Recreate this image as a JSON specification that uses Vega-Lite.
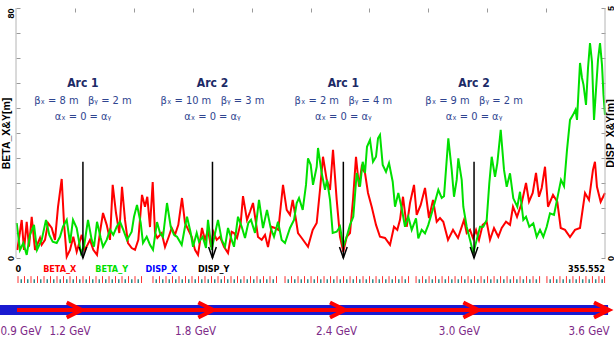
{
 "$schema": "https://vega.github.io/schema/vega-lite/v6.json",
 "width": 589, "height": 250,
 "autosize": {"type": "none"},
 "padding": {"left": 16, "top": 8, "right": 9, "bottom": 89},
 "background": "white",
 "config": {"view": {"stroke": null}, "axis": {"grid": false}, "text": {"font": "'DejaVu Sans Condensed', 'Liberation Sans', sans-serif"}},
 "datasets": {
  "beta": [
{"s":0.78,"v":2.56,"k":"X"},{"s":3.44,"v":12.16,"k":"X"},{"s":4.83,"v":2.56,"k":"X"},{"s":6.46,"v":11.6,"k":"X"},{"s":7.85,"v":3.6,"k":"X"},{"s":9.48,"v":13.2,"k":"X"},{"s":11.47,"v":2.56,"k":"X"},{"s":14.49,"v":6.4,"k":"X"},{"s":15.51,"v":4.2,"k":"X"},{"s":17.51,"v":5.8,"k":"X"},{"s":19.32,"v":11.2,"k":"X"},{"s":21.55,"v":9.6,"k":"X"},{"s":23.54,"v":5.8,"k":"X"},{"s":25.35,"v":16.3,"k":"X"},{"s":27.59,"v":25.3,"k":"X"},{"s":28.98,"v":11.2,"k":"X"},{"s":30.61,"v":0.4,"k":"X"},{"s":32.6,"v":2.6,"k":"X"},{"s":34.59,"v":6.8,"k":"X"},{"s":36.64,"v":2.0,"k":"X"},{"s":39.66,"v":7.4,"k":"X"},{"s":41.65,"v":2.6,"k":"X"},{"s":44.67,"v":5.8,"k":"X"},{"s":46.66,"v":2.6,"k":"X"},{"s":48.9,"v":1.0,"k":"X"},{"s":50.71,"v":8.3,"k":"X"},{"s":52.52,"v":14.4,"k":"X"},{"s":54.75,"v":10.6,"k":"X"},{"s":56.74,"v":5.8,"k":"X"},{"s":58.37,"v":23.4,"k":"X"},{"s":60.37,"v":14.4,"k":"X"},{"s":62.36,"v":8.0,"k":"X"},{"s":63.99,"v":22.8,"k":"X"},{"s":65.8,"v":12.2,"k":"X"},{"s":67.61,"v":4.8,"k":"X"},{"s":69.84,"v":3.2,"k":"X"},{"s":71.84,"v":2.6,"k":"X"},{"s":73.83,"v":5.8,"k":"X"},{"s":76.06,"v":20.2,"k":"X"},{"s":77.87,"v":16.4,"k":"X"},{"s":79.26,"v":19.6,"k":"X"},{"s":80.89,"v":9.9,"k":"X"},{"s":82.52,"v":24.3,"k":"X"},{"s":83.91,"v":8.0,"k":"X"},{"s":85.3,"v":6.4,"k":"X"},{"s":87.96,"v":8.0,"k":"X"},{"s":89.95,"v":3.5,"k":"X"},{"s":91.94,"v":6.4,"k":"X"},{"s":93.99,"v":9.6,"k":"X"},{"s":95.98,"v":7.4,"k":"X"},{"s":97.98,"v":10.6,"k":"X"},{"s":100.21,"v":19.2,"k":"X"},{"s":102.02,"v":11.2,"k":"X"},{"s":104.01,"v":9.0,"k":"X"},{"s":106.06,"v":6.8,"k":"X"},{"s":108.06,"v":2.6,"k":"X"},{"s":109.87,"v":1.0,"k":"X"},{"s":112.28,"v":9.6,"k":"X"},{"s":114.09,"v":5.8,"k":"X"},{"s":115.9,"v":9.0,"k":"X"},{"s":117.71,"v":3.6,"k":"X"},{"s":119.1,"v":8.4,"k":"X"},{"s":121.15,"v":5.8,"k":"X"},{"s":123.15,"v":6.8,"k":"X"},{"s":125.56,"v":3.6,"k":"X"},{"s":127.98,"v":1.6,"k":"X"},{"s":130.21,"v":8.4,"k":"X"},{"s":131.6,"v":8.0,"k":"X"},{"s":133.41,"v":6.4,"k":"X"},{"s":135.64,"v":11.2,"k":"X"},{"s":137.03,"v":19.8,"k":"X"},{"s":139.45,"v":12.2,"k":"X"},{"s":141.26,"v":14.8,"k":"X"},{"s":143.07,"v":17.6,"k":"X"},{"s":144.88,"v":11.2,"k":"X"},{"s":146.09,"v":6.7,"k":"X"},{"s":148.32,"v":5.8,"k":"X"},{"s":150.31,"v":7.4,"k":"X"},{"s":152.12,"v":3.5,"k":"X"},{"s":154.36,"v":10.0,"k":"X"},{"s":156.35,"v":9.6,"k":"X"},{"s":158.34,"v":9.0,"k":"X"},{"s":159.79,"v":16.4,"k":"X"},{"s":161.18,"v":23.4,"k":"X"},{"s":163.41,"v":15.4,"k":"X"},{"s":165.4,"v":13.8,"k":"X"},{"s":167.03,"v":18.6,"k":"X"},{"s":169.02,"v":12.2,"k":"X"},{"s":170.23,"v":8.0,"k":"X"},{"s":172.47,"v":6.4,"k":"X"},{"s":176.27,"v":3.6,"k":"X"},{"s":179.11,"v":9.0,"k":"X"},{"s":181.52,"v":11.2,"k":"X"},{"s":183.51,"v":21.8,"k":"X"},{"s":185.32,"v":32.4,"k":"X"},{"s":187.56,"v":25.0,"k":"X"},{"s":189.55,"v":21.8,"k":"X"},{"s":191.36,"v":34.6,"k":"X"},{"s":193.59,"v":18.6,"k":"X"},{"s":195.59,"v":6.8,"k":"X"},{"s":197.58,"v":2.0,"k":"X"},{"s":199.63,"v":6.8,"k":"X"},{"s":201.62,"v":8.0,"k":"X"},{"s":203.43,"v":18.6,"k":"X"},{"s":205.24,"v":32.4,"k":"X"},{"s":207.06,"v":22.8,"k":"X"},{"s":208.69,"v":29.2,"k":"X"},{"s":210.68,"v":27.2,"k":"X"},{"s":212.49,"v":20.8,"k":"X"},{"s":214.72,"v":16.4,"k":"X"},{"s":217.32,"v":10.6,"k":"X"},{"s":219.73,"v":6.8,"k":"X"},{"s":222.75,"v":6.4,"k":"X"},{"s":225.77,"v":4.2,"k":"X"},{"s":228.18,"v":10.0,"k":"X"},{"s":230.18,"v":9.0,"k":"X"},{"s":231.81,"v":12.2,"k":"X"},{"s":233.62,"v":19.6,"k":"X"},{"s":235.85,"v":10.0,"k":"X"},{"s":237.84,"v":17.6,"k":"X"},{"s":240.26,"v":23.4,"k":"X"},{"s":241.89,"v":13.8,"k":"X"},{"s":244.3,"v":17.0,"k":"X"},{"s":246.9,"v":22.4,"k":"X"},{"s":249.31,"v":12.8,"k":"X"},{"s":251.73,"v":18.6,"k":"X"},{"s":253.96,"v":11.6,"k":"X"},{"s":255.95,"v":12.8,"k":"X"},{"s":257.94,"v":11.6,"k":"X"},{"s":260.78,"v":5.8,"k":"X"},{"s":263.8,"v":9.0,"k":"X"},{"s":266.82,"v":6.4,"k":"X"},{"s":270.44,"v":12.2,"k":"X"},{"s":272.07,"v":8.0,"k":"X"},{"s":274.06,"v":9.0,"k":"X"},{"s":275.87,"v":6.4,"k":"X"},{"s":277.68,"v":9.0,"k":"X"},{"s":279.49,"v":5.8,"k":"X"},{"s":281.73,"v":10.6,"k":"X"},{"s":284.14,"v":11.6,"k":"X"},{"s":286.13,"v":5.8,"k":"X"},{"s":288.55,"v":9.6,"k":"X"},{"s":291.14,"v":6.8,"k":"X"},{"s":293.2,"v":9.6,"k":"X"},{"s":295.79,"v":11.6,"k":"X"},{"s":298.21,"v":10.6,"k":"X"},{"s":300.02,"v":16.4,"k":"X"},{"s":302.44,"v":13.2,"k":"X"},{"s":305.27,"v":17.6,"k":"X"},{"s":307.87,"v":24.0,"k":"X"},{"s":309.68,"v":18.0,"k":"X"},{"s":311.91,"v":20.8,"k":"X"},{"s":313.9,"v":27.2,"k":"X"},{"s":315.71,"v":19.6,"k":"X"},{"s":317.34,"v":22.4,"k":"X"},{"s":319.34,"v":29.2,"k":"X"},{"s":321.15,"v":16.4,"k":"X"},{"s":324.17,"v":20.2,"k":"X"},{"s":326.76,"v":18.0,"k":"X"},{"s":328.82,"v":9.6,"k":"X"},{"s":331.41,"v":9.0,"k":"X"},{"s":334.43,"v":6.7,"k":"X"},{"s":337.45,"v":9.0,"k":"X"},{"s":340.47,"v":9.6,"k":"X"},{"s":343.49,"v":20.8,"k":"X"},{"s":345.87,"v":18.6,"k":"X"},{"s":348.28,"v":28.2,"k":"X"},{"s":349.49,"v":30.8,"k":"X"},{"s":350.7,"v":22.8,"k":"X"},{"s":352.93,"v":18.0,"k":"X"},{"s":355.55,"v":20.8,"k":"X"},
{"s":0.42,"v":11.2,"k":"Y"},{"s":2.41,"v":2.6,"k":"Y"},{"s":4.41,"v":4.8,"k":"Y"},{"s":6.46,"v":1.0,"k":"Y"},{"s":8.45,"v":7.4,"k":"Y"},{"s":10.87,"v":10.6,"k":"Y"},{"s":12.68,"v":2.6,"k":"Y"},{"s":15.51,"v":5.8,"k":"Y"},{"s":18.11,"v":12.2,"k":"Y"},{"s":20.1,"v":7.4,"k":"Y"},{"s":22.15,"v":5.2,"k":"Y"},{"s":24.57,"v":4.8,"k":"Y"},{"s":26.56,"v":6.8,"k":"Y"},{"s":28.37,"v":10.0,"k":"Y"},{"s":30.61,"v":12.2,"k":"Y"},{"s":32.6,"v":4.8,"k":"Y"},{"s":34.41,"v":12.2,"k":"Y"},{"s":36.64,"v":9.6,"k":"Y"},{"s":39.24,"v":1.6,"k":"Y"},{"s":41.05,"v":3.6,"k":"Y"},{"s":43.46,"v":12.2,"k":"Y"},{"s":45.7,"v":5.8,"k":"Y"},{"s":47.09,"v":3.6,"k":"Y"},{"s":48.9,"v":11.6,"k":"Y"},{"s":51.13,"v":6.4,"k":"Y"},{"s":52.52,"v":3.6,"k":"Y"},{"s":54.75,"v":5.8,"k":"Y"},{"s":56.74,"v":9.0,"k":"Y"},{"s":58.74,"v":7.4,"k":"Y"},{"s":60.79,"v":10.0,"k":"Y"},{"s":62.78,"v":11.6,"k":"Y"},{"s":64.77,"v":9.0,"k":"Y"},{"s":67.01,"v":5.8,"k":"Y"},{"s":69.84,"v":8.4,"k":"Y"},{"s":71.23,"v":13.2,"k":"Y"},{"s":73.04,"v":17.0,"k":"Y"},{"s":75.28,"v":11.2,"k":"Y"},{"s":76.66,"v":4.8,"k":"Y"},{"s":78.9,"v":6.8,"k":"Y"},{"s":80.89,"v":4.2,"k":"Y"},{"s":82.7,"v":2.6,"k":"Y"},{"s":85.12,"v":11.5,"k":"Y"},{"s":86.93,"v":8.0,"k":"Y"},{"s":88.74,"v":6.8,"k":"Y"},{"s":91.15,"v":17.6,"k":"Y"},{"s":93.39,"v":10.0,"k":"Y"},{"s":95.38,"v":7.4,"k":"Y"},{"s":97.19,"v":6.8,"k":"Y"},{"s":100.03,"v":4.2,"k":"Y"},{"s":102.02,"v":10.0,"k":"Y"},{"s":103.23,"v":13.2,"k":"Y"},{"s":105.46,"v":8.0,"k":"Y"},{"s":106.85,"v":3.6,"k":"Y"},{"s":109.08,"v":8.0,"k":"Y"},{"s":110.47,"v":5.2,"k":"Y"},{"s":112.7,"v":6.8,"k":"Y"},{"s":114.7,"v":3.2,"k":"Y"},{"s":115.9,"v":12.2,"k":"Y"},{"s":118.14,"v":2.6,"k":"Y"},{"s":119.71,"v":6.8,"k":"Y"},{"s":121.94,"v":12.2,"k":"Y"},{"s":124.18,"v":5.8,"k":"Y"},{"s":126.17,"v":3.6,"k":"Y"},{"s":127.98,"v":9.6,"k":"Y"},{"s":130.21,"v":5.8,"k":"Y"},{"s":131.6,"v":3.6,"k":"Y"},{"s":134.01,"v":13.2,"k":"Y"},{"s":136.25,"v":10.0,"k":"Y"},{"s":138.24,"v":6.4,"k":"Y"},{"s":140.23,"v":11.2,"k":"Y"},{"s":141.86,"v":12.2,"k":"Y"},{"s":144.27,"v":8.0,"k":"Y"},{"s":146.69,"v":18.6,"k":"Y"},{"s":149.1,"v":9.6,"k":"Y"},{"s":151.52,"v":15.4,"k":"Y"},{"s":153.75,"v":9.6,"k":"Y"},{"s":155.74,"v":6.8,"k":"Y"},{"s":158.16,"v":11.6,"k":"Y"},{"s":160.39,"v":5.8,"k":"Y"},{"s":162.38,"v":4.8,"k":"Y"},{"s":165.4,"v":9.6,"k":"Y"},{"s":167.82,"v":12.2,"k":"Y"},{"s":169.45,"v":17.6,"k":"Y"},{"s":170.84,"v":19.2,"k":"Y"},{"s":173.07,"v":15.4,"k":"Y"},{"s":175.06,"v":23.4,"k":"Y"},{"s":176.27,"v":31.9,"k":"Y"},{"s":177.9,"v":29.8,"k":"Y"},{"s":179.29,"v":23.4,"k":"Y"},{"s":181.52,"v":29.2,"k":"Y"},{"s":182.31,"v":35.2,"k":"Y"},{"s":184.54,"v":27.2,"k":"Y"},{"s":186.53,"v":21.8,"k":"Y"},{"s":187.74,"v":25.0,"k":"Y"},{"s":189.55,"v":18.6,"k":"Y"},{"s":191.18,"v":8.0,"k":"Y"},{"s":193.59,"v":8.4,"k":"Y"},{"s":195.59,"v":10.0,"k":"Y"},{"s":197.58,"v":3.6,"k":"Y"},{"s":199.63,"v":6.8,"k":"Y"},{"s":201.62,"v":10.6,"k":"Y"},{"s":203.61,"v":13.2,"k":"Y"},{"s":205.67,"v":27.2,"k":"Y"},{"s":207.66,"v":22.8,"k":"Y"},{"s":209.29,"v":30.8,"k":"Y"},{"s":210.68,"v":27.2,"k":"Y"},{"s":211.88,"v":35.6,"k":"Y"},{"s":213.7,"v":37.8,"k":"Y"},{"s":215.51,"v":30.8,"k":"Y"},{"s":217.32,"v":32.4,"k":"Y"},{"s":218.53,"v":38.3,"k":"Y"},{"s":219.73,"v":39.4,"k":"Y"},{"s":221.36,"v":29.8,"k":"Y"},{"s":223.35,"v":27.6,"k":"Y"},{"s":225.17,"v":30.4,"k":"Y"},{"s":227.4,"v":24.4,"k":"Y"},{"s":228.79,"v":16.4,"k":"Y"},{"s":230.78,"v":20.8,"k":"Y"},{"s":232.83,"v":15.9,"k":"Y"},{"s":234.82,"v":10.0,"k":"Y"},{"s":236.82,"v":13.2,"k":"Y"},{"s":238.87,"v":9.0,"k":"Y"},{"s":241.46,"v":12.7,"k":"Y"},{"s":242.85,"v":6.3,"k":"Y"},{"s":244.9,"v":9.0,"k":"Y"},{"s":246.9,"v":7.9,"k":"Y"},{"s":248.89,"v":10.6,"k":"Y"},{"s":250.94,"v":14.3,"k":"Y"},{"s":252.93,"v":18.0,"k":"Y"},{"s":254.93,"v":21.8,"k":"Y"},{"s":256.98,"v":19.2,"k":"Y"},{"s":258.37,"v":19.8,"k":"Y"},{"s":260.0,"v":31.4,"k":"Y"},{"s":260.97,"v":38.3,"k":"Y"},{"s":263.02,"v":28.2,"k":"Y"},{"s":264.4,"v":19.6,"k":"Y"},{"s":266.03,"v":25.0,"k":"Y"},{"s":267.0,"v":31.9,"k":"Y"},{"s":269.05,"v":25.0,"k":"Y"},{"s":270.02,"v":16.4,"k":"Y"},{"s":272.07,"v":10.0,"k":"Y"},{"s":274.06,"v":5.8,"k":"Y"},{"s":276.06,"v":1.5,"k":"Y"},{"s":278.11,"v":5.8,"k":"Y"},{"s":280.1,"v":10.0,"k":"Y"},{"s":282.09,"v":10.0,"k":"Y"},{"s":284.14,"v":12.2,"k":"Y"},{"s":285.71,"v":23.9,"k":"Y"},{"s":287.16,"v":32.4,"k":"Y"},{"s":289.16,"v":26.0,"k":"Y"},{"s":290.54,"v":30.3,"k":"Y"},{"s":292.6,"v":41.0,"k":"Y"},{"s":294.59,"v":28.2,"k":"Y"},{"s":296.22,"v":22.8,"k":"Y"},{"s":298.21,"v":27.1,"k":"Y"},{"s":300.2,"v":19.1,"k":"Y"},{"s":302.62,"v":16.4,"k":"Y"},{"s":304.24,"v":21.2,"k":"Y"},{"s":306.24,"v":12.2,"k":"Y"},{"s":307.87,"v":13.2,"k":"Y"},{"s":309.86,"v":10.0,"k":"Y"},{"s":312.27,"v":11.1,"k":"Y"},{"s":314.33,"v":6.8,"k":"Y"},{"s":316.32,"v":9.0,"k":"Y"},{"s":318.31,"v":6.8,"k":"Y"},{"s":320.37,"v":10.0,"k":"Y"},{"s":322.35,"v":14.3,"k":"Y"},{"s":324.77,"v":13.8,"k":"Y"},{"s":327.18,"v":20.2,"k":"Y"},{"s":329.0,"v":25.0,"k":"Y"},{"s":330.81,"v":23.0,"k":"Y"},{"s":332.62,"v":34.6,"k":"Y"},{"s":334.43,"v":44.2,"k":"Y"},{"s":336.24,"v":45.8,"k":"Y"},{"s":337.75,"v":47.4,"k":"Y"},{"s":338.65,"v":44.2,"k":"Y"},{"s":340.47,"v":62.4,"k":"Y"},{"s":341.67,"v":57.6,"k":"Y"},{"s":342.58,"v":55.4,"k":"Y"},{"s":344.09,"v":49.0,"k":"Y"},{"s":345.3,"v":60.8,"k":"Y"},{"s":346.5,"v":68.8,"k":"Y"},{"s":347.71,"v":62.7,"k":"Y"},{"s":348.92,"v":44.2,"k":"Y"},{"s":350.12,"v":53.8,"k":"Y"},{"s":351.33,"v":63.4,"k":"Y"},{"s":352.54,"v":68.8,"k":"Y"},{"s":353.74,"v":61.8,"k":"Y"},{"s":354.65,"v":52.2,"k":"Y"},{"s":355.55,"v":45.8,"k":"Y"}
  ],
  "ann": [
   {"s":40.4,"arc":"Arc 1","b":"βₓ = 8 m\u00a0\u00a0 βᵧ = 2 m","a":"αₓ = 0 = αᵧ"},
   {"s":118.6,"arc":"Arc 2","b":"βₓ = 10 m\u00a0\u00a0 βᵧ = 3 m","a":"αₓ = 0 = αᵧ"},
   {"s":197.6,"arc":"Arc 1","b":"βₓ = 2 m\u00a0\u00a0 βᵧ = 4 m","a":"αₓ = 0 = αᵧ"},
   {"s":276.5,"arc":"Arc 2","b":"βₓ = 9 m\u00a0\u00a0 βᵧ = 2 m","a":"αₓ = 0 = αᵧ"}
  ],
  "legend": [
   {"s":1.4,"t":"0"},{"s":26.38,"t":"BETA_X"},{"s":57.77,"t":"BETA_Y"},{"s":87.71,"t":"DISP_X"},{"s":119.35,"t":"DISP_Y"}
  ],
  "lattice": [
{"s":1.21,"k":"B"},{"s":5.13,"k":"B"},{"s":9.06,"k":"B"},{"s":12.98,"k":"B"},{"s":16.91,"k":"B"},{"s":20.83,"k":"B"},{"s":24.75,"k":"B"},{"s":28.68,"k":"B"},{"s":32.6,"k":"B"},{"s":36.53,"k":"B"},{"s":40.45,"k":"B"},{"s":44.37,"k":"B"},{"s":48.3,"k":"B"},{"s":52.22,"k":"B"},{"s":56.15,"k":"B"},{"s":60.07,"k":"B"},{"s":63.99,"k":"B"},{"s":67.92,"k":"B"},{"s":71.84,"k":"B"},{"s":75.77,"k":"B"},
{"s":3.17,"k":"Q"},{"s":7.09,"k":"Q"},{"s":11.02,"k":"Q"},{"s":14.94,"k":"Q"},{"s":18.87,"k":"Q"},{"s":22.79,"k":"Q"},{"s":26.71,"k":"Q"},{"s":30.64,"k":"Q"},{"s":34.56,"k":"Q"},{"s":38.49,"k":"Q"},{"s":42.41,"k":"Q"},{"s":46.33,"k":"Q"},{"s":50.26,"k":"Q"},{"s":54.18,"k":"Q"},{"s":58.11,"k":"Q"},{"s":62.03,"k":"Q"},{"s":65.95,"k":"Q"},{"s":69.88,"k":"Q"},{"s":73.8,"k":"Q"},
{"s":82.7,"k":"B"},{"s":86.62,"k":"B"},{"s":90.55,"k":"B"},{"s":94.47,"k":"B"},{"s":98.4,"k":"B"},{"s":102.32,"k":"B"},{"s":106.24,"k":"B"},{"s":110.17,"k":"B"},{"s":114.09,"k":"B"},{"s":118.02,"k":"B"},{"s":121.94,"k":"B"},{"s":125.86,"k":"B"},{"s":129.79,"k":"B"},{"s":133.71,"k":"B"},{"s":137.64,"k":"B"},{"s":141.56,"k":"B"},{"s":145.48,"k":"B"},{"s":149.41,"k":"B"},{"s":153.33,"k":"B"},{"s":157.26,"k":"B"},
{"s":84.66,"k":"Q"},{"s":88.58,"k":"Q"},{"s":92.51,"k":"Q"},{"s":96.43,"k":"Q"},{"s":100.36,"k":"Q"},{"s":104.28,"k":"Q"},{"s":108.2,"k":"Q"},{"s":112.13,"k":"Q"},{"s":116.05,"k":"Q"},{"s":119.98,"k":"Q"},{"s":123.9,"k":"Q"},{"s":127.82,"k":"Q"},{"s":131.75,"k":"Q"},{"s":135.67,"k":"Q"},{"s":139.6,"k":"Q"},{"s":143.52,"k":"Q"},{"s":147.44,"k":"Q"},{"s":151.37,"k":"Q"},{"s":155.29,"k":"Q"},
{"s":162.4,"k":"B"},{"s":166.32,"k":"B"},{"s":170.25,"k":"B"},{"s":174.17,"k":"B"},{"s":178.1,"k":"B"},{"s":182.02,"k":"B"},{"s":185.94,"k":"B"},{"s":189.87,"k":"B"},{"s":193.79,"k":"B"},{"s":197.72,"k":"B"},{"s":201.64,"k":"B"},{"s":205.56,"k":"B"},{"s":209.49,"k":"B"},{"s":213.41,"k":"B"},{"s":217.34,"k":"B"},{"s":221.26,"k":"B"},{"s":225.18,"k":"B"},{"s":229.11,"k":"B"},{"s":233.03,"k":"B"},{"s":236.96,"k":"B"},
{"s":164.36,"k":"Q"},{"s":168.28,"k":"Q"},{"s":172.21,"k":"Q"},{"s":176.13,"k":"Q"},{"s":180.06,"k":"Q"},{"s":183.98,"k":"Q"},{"s":187.9,"k":"Q"},{"s":191.83,"k":"Q"},{"s":195.75,"k":"Q"},{"s":199.68,"k":"Q"},{"s":203.6,"k":"Q"},{"s":207.52,"k":"Q"},{"s":211.45,"k":"Q"},{"s":215.37,"k":"Q"},{"s":219.3,"k":"Q"},{"s":223.22,"k":"Q"},{"s":227.14,"k":"Q"},{"s":231.07,"k":"Q"},{"s":234.99,"k":"Q"},
{"s":241.5,"k":"B"},{"s":245.42,"k":"B"},{"s":249.35,"k":"B"},{"s":253.27,"k":"B"},{"s":257.2,"k":"B"},{"s":261.12,"k":"B"},{"s":265.04,"k":"B"},{"s":268.97,"k":"B"},{"s":272.89,"k":"B"},{"s":276.82,"k":"B"},{"s":280.74,"k":"B"},{"s":284.66,"k":"B"},{"s":288.59,"k":"B"},{"s":292.51,"k":"B"},{"s":296.44,"k":"B"},{"s":300.36,"k":"B"},{"s":304.28,"k":"B"},{"s":308.21,"k":"B"},{"s":312.13,"k":"B"},{"s":316.06,"k":"B"},
{"s":243.46,"k":"Q"},{"s":247.38,"k":"Q"},{"s":251.31,"k":"Q"},{"s":255.23,"k":"Q"},{"s":259.16,"k":"Q"},{"s":263.08,"k":"Q"},{"s":267.0,"k":"Q"},{"s":270.93,"k":"Q"},{"s":274.85,"k":"Q"},{"s":278.78,"k":"Q"},{"s":282.7,"k":"Q"},{"s":286.62,"k":"Q"},{"s":290.55,"k":"Q"},{"s":294.47,"k":"Q"},{"s":298.4,"k":"Q"},{"s":302.32,"k":"Q"},{"s":306.24,"k":"Q"},{"s":310.17,"k":"Q"},{"s":314.09,"k":"Q"},
{"s":320.5,"k":"B"},{"s":324.42,"k":"B"},{"s":328.35,"k":"B"},{"s":332.27,"k":"B"},{"s":336.2,"k":"B"},{"s":340.12,"k":"B"},{"s":344.04,"k":"B"},{"s":347.97,"k":"B"},{"s":351.89,"k":"B"},{"s":355.3,"k":"B"},
{"s":322.46,"k":"Q"},{"s":326.38,"k":"Q"},{"s":330.31,"k":"Q"},{"s":334.23,"k":"Q"},{"s":338.16,"k":"Q"},{"s":342.08,"k":"Q"},{"s":346.0,"k":"Q"},{"s":349.93,"k":"Q"},{"s":353.85,"k":"Q"}
  ],
  "ramp": [
   {"a":0.6,"b":39.66},{"a":39.66,"b":119.1},{"a":119.1,"b":198.6},{"a":198.6,"b":279.1},{"a":279.1,"b":357.97}
  ],
  "energy": [
   {"s":3.0,"e":"0.9 GeV"},{"s":32.6,"e":"1.2 GeV"},{"s":108.4,"e":"1.8 GeV"},{"s":193.5,"e":"2.4 GeV"},{"s":267.7,"e":"3.0 GeV"},{"s":345.9,"e":"3.6 GeV"}
  ]
 },
 "resolve": {"scale": {"y": "independent"}, "axis": {"x": "independent"}},
 "layer": [
  {
   "resolve": {"scale": {"color": "independent"}},
   "layer": [
    {
     "data": {"name": "beta"},
     "mark": {"type": "line", "strokeWidth": 2},
     "encoding": {
      "x": {"field": "s", "type": "quantitative", "scale": {"domain": [0, 355.552], "nice": false, "zero": false},
        "axis": {"orient": "bottom", "title": null, "labels": false, "values": [35.5552, 71.1104, 106.6656, 142.2208, 177.776, 213.3312, 248.8864, 284.4416, 319.9968], "tickSize": -4, "tickColor": "#9a9a9a", "domainColor": "#b4b4b4", "domainWidth": 1}},
      "y": {"field": "v", "type": "quantitative", "scale": {"domain": [0, 80], "nice": false, "zero": false}, "axis": null},
      "color": {"field": "k", "type": "nominal", "scale": {"domain": ["X", "Y"], "range": ["#ff0000", "#00e000"]}, "legend": null}
     }
    },
    {
     "data": {"name": "ann"},
     "mark": {"type": "rule", "color": "#000", "strokeWidth": 1.5},
     "encoding": {
      "x": {"field": "s", "type": "quantitative", "axis": null},
      "y": {"datum": 30.8, "type": "quantitative", "axis": null},
      "y2": {"datum": 0}
     }
    },
    {
     "data": {"name": "ann"},
     "mark": {"type": "point", "shape": "M-0.7,-2L0,0L0.7,-2", "filled": false, "size": 121, "stroke": "#000", "strokeWidth": 1.5, "opacity": 1},
     "encoding": {
      "x": {"field": "s", "type": "quantitative", "axis": null},
      "y": {"datum": 0, "type": "quantitative", "axis": null}
     }
    },
    {
     "data": {"name": "ann"},
     "mark": {"type": "text", "fontWeight": "bold", "fontSize": 12, "color": "#1c2a66", "baseline": "middle"},
     "encoding": {
      "x": {"field": "s", "type": "quantitative", "axis": null},
      "y": {"datum": 56.0, "type": "quantitative", "axis": null},
      "text": {"field": "arc"}
     }
    },
    {
     "data": {"name": "ann"},
     "mark": {"type": "text", "fontSize": 11, "color": "#2f4590", "baseline": "middle"},
     "encoding": {
      "x": {"field": "s", "type": "quantitative", "axis": null},
      "y": {"datum": 50.4, "type": "quantitative", "axis": null},
      "text": {"field": "b"}
     }
    },
    {
     "data": {"name": "ann"},
     "mark": {"type": "text", "fontSize": 11, "color": "#2f4590", "baseline": "middle"},
     "encoding": {
      "x": {"field": "s", "type": "quantitative", "axis": null},
      "y": {"datum": 45.2, "type": "quantitative", "axis": null},
      "text": {"field": "a"}
     }
    },
    {
     "data": {"name": "legend"},
     "mark": {"type": "text", "fontWeight": "bold", "fontSize": 9, "baseline": "middle"},
     "encoding": {
      "x": {"field": "s", "type": "quantitative", "axis": null},
      "y": {"datum": -3.5, "type": "quantitative", "axis": null},
      "text": {"field": "t"},
      "color": {"field": "t", "type": "nominal", "scale": {"domain": ["0", "BETA_X", "BETA_Y", "DISP_X", "DISP_Y"], "range": ["#000000", "#ff0000", "#00e000", "#0000ff", "#000000"]}, "legend": null}
     }
    },
    {
     "data": {"values": [{"s": 355.552, "t": "355.552"}]},
     "mark": {"type": "text", "fontWeight": "bold", "fontSize": 9, "baseline": "middle", "align": "right", "color": "#000"},
     "encoding": {
      "x": {"field": "s", "type": "quantitative", "axis": null},
      "y": {"datum": -3.5, "type": "quantitative", "axis": null},
      "text": {"field": "t"}
     }
    },
    {
     "data": {"name": "lattice"},
     "transform": [{"filter": "datum.k == 'B'"}],
     "mark": {"type": "rule", "color": "#ff3030", "strokeWidth": 1},
     "encoding": {
      "x": {"field": "s", "type": "quantitative", "axis": null},
      "y": {"datum": -5.8, "type": "quantitative", "axis": null},
      "y2": {"datum": -8.0}
     }
    },
    {
     "data": {"name": "lattice"},
     "transform": [{"filter": "datum.k == 'Q'"}],
     "mark": {"type": "rule", "color": "#2a8a8a", "strokeWidth": 1.5},
     "encoding": {
      "x": {"field": "s", "type": "quantitative", "axis": null},
      "y": {"datum": -6.8, "type": "quantitative", "axis": null},
      "y2": {"datum": -8.0}
     }
    },
    {
     "data": {"values": [{"from": -9.66, "to": 357.4}]},
     "mark": {"type": "rule", "color": "#1a1ad0", "strokeWidth": 10},
     "encoding": {
      "x": {"field": "from", "type": "quantitative", "axis": null},
      "x2": {"field": "to"},
      "y": {"datum": -16.64, "type": "quantitative", "axis": null}
     }
    },
    {
     "data": {"name": "ramp"},
     "mark": {"type": "rule", "color": "#ff0000", "strokeWidth": 4},
     "encoding": {
      "x": {"field": "a", "type": "quantitative", "axis": null},
      "x2": {"field": "b"},
      "y": {"datum": -16.64, "type": "quantitative", "axis": null}
     }
    },
    {
     "data": {"name": "ramp"},
     "mark": {"type": "point", "shape": "M-2,-1L0,0L-2,1", "filled": false, "size": 225, "stroke": "#ff0000", "strokeWidth": 4, "opacity": 1, "strokeJoin": "miter"},
     "encoding": {
      "x": {"field": "b", "type": "quantitative", "axis": null},
      "y": {"datum": -16.64, "type": "quantitative", "axis": null}
     }
    },
    {
     "data": {"name": "energy"},
     "mark": {"type": "text", "fontSize": 11.5, "color": "#7d2a88", "baseline": "middle"},
     "encoding": {
      "x": {"field": "s", "type": "quantitative", "axis": null},
      "y": {"datum": -23.7, "type": "quantitative", "axis": null},
      "text": {"field": "e"}
     }
    }
   ]
  },
  {
   "data": {"values": [{"s": 0}]},
   "mark": {"type": "rule", "color": "#b4b4b4", "strokeWidth": 1},
   "encoding": {
    "x": {"field": "s", "type": "quantitative", "scale": {"domain": [0, 355.552], "nice": false, "zero": false}, "axis": null},
    "y": {"datum": 0, "type": "quantitative", "scale": {"domain": [0, 80], "nice": false, "zero": false},
      "axis": {"orient": "left", "domain": false, "values": [0, 8, 16, 24, 32, 40, 48, 56, 64, 72, 80], "labelExpr": "datum.value == 0 ? '0' : datum.value == 80 ? '80' : ''", "labelAngle": 270, "labelAlign": {"condition": {"test": "datum.value == 80", "value": "right"}, "value": "center"}, "labelBaseline": "bottom", "labelFont": "Liberation Sans", "labelFontWeight": "bold", "labelFontSize": 9, "labelColor": "#000", "labelPadding": 5, "tickSize": -4, "tickColor": "#9a9a9a", "title": "BETA_X&Y[m]", "titleAngle": 270, "titleBaseline": "bottom", "titleFont": "Liberation Sans", "titleFontWeight": "bold", "titleFontSize": 10.5, "titleColor": "#000", "titlePadding": -5}},
    "y2": {"datum": 80}
   }
  },
  {
   "data": {"values": [{"s": 355.552}]},
   "mark": {"type": "rule", "color": "#b4b4b4", "strokeWidth": 1},
   "encoding": {
    "x": {"field": "s", "type": "quantitative", "scale": {"domain": [0, 355.552], "nice": false, "zero": false},
      "axis": {"orient": "top", "title": null, "labels": false, "values": [35.5552, 71.1104, 106.6656, 142.2208, 177.776, 213.3312, 248.8864, 284.4416, 319.9968], "tickSize": -4, "tickColor": "#9a9a9a", "domain": false}},
    "y": {"datum": 0, "type": "quantitative", "scale": {"domain": [0, 5], "nice": false, "zero": false},
      "axis": {"orient": "right", "domain": false, "values": [0, 0.5, 1, 1.5, 2, 2.5, 3, 3.5, 4, 4.5, 5], "labelExpr": "datum.value == 0 ? '0' : datum.value == 5 ? '5' : ''", "labelAngle": 270, "labelAlign": "center", "labelBaseline": "top", "labelFont": "Liberation Sans", "labelFontWeight": "bold", "labelFontSize": 9, "labelColor": "#000", "labelPadding": 5, "tickSize": -4, "tickColor": "#9a9a9a", "title": "DISP_X&Y[m]", "titleAngle": 270, "titleBaseline": "top", "titleFont": "Liberation Sans", "titleFontWeight": "bold", "titleFontSize": 10.5, "titleColor": "#000", "titlePadding": -10}},
    "y2": {"datum": 5}
   }
  }
 ]
}
